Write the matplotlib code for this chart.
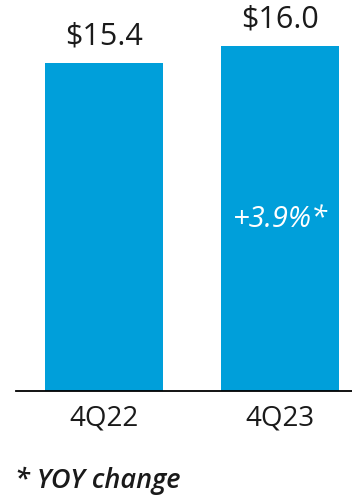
import matplotlib
matplotlib.use("Agg")
import matplotlib.pyplot as plt

categories = ["4Q22", "4Q23"]
values = [15.4, 16.0]
value_labels = ["$15.4", "$16.0"]
change_label = "+3.9%*"
footnote = "* YOY change"

plt.rcParams['font.family'] = ['Open Sans', 'DejaVu Sans']

W, H = 352, 497
fig = plt.figure(figsize=(W/100, H/100), dpi=100)
ax = fig.add_axes([16/W, (H-391)/H, 1-16/W, 391/H])
x = list(range(len(categories)))
bars = ax.bar(x, values, width=0.67, color="#009FDA")
ax.set_ylim(3.75, 17.63)
ax.set_xlim(-0.5, 1.409)
for s in ["top", "right", "left"]:
    ax.spines[s].set_visible(False)
ax.spines["bottom"].set_linewidth(1.3)
ax.set_yticks([])
ax.set_xticks(x)
ax.set_xticklabels(categories, fontsize=20, color="#1a1a1a")
ax.tick_params(axis="x", length=0, pad=10)

for xi, v, lab in zip(x, values, value_labels):
    ax.annotate(lab, (xi, v), xytext=(0, 8), textcoords="offset points",
                ha="center", va="bottom", fontsize=22, color="#1a1a1a", clip_on=False)

ax.text(1, 9.85, change_label, ha="center", va="center", fontsize=21,
        color="white", style="italic")

fig.text(15/W, 1-488/H, footnote, ha="left", va="baseline", fontsize=19.5,
         style="italic", weight="semibold", color="#1a1a1a")

fig.savefig("out.png", dpi=100)
